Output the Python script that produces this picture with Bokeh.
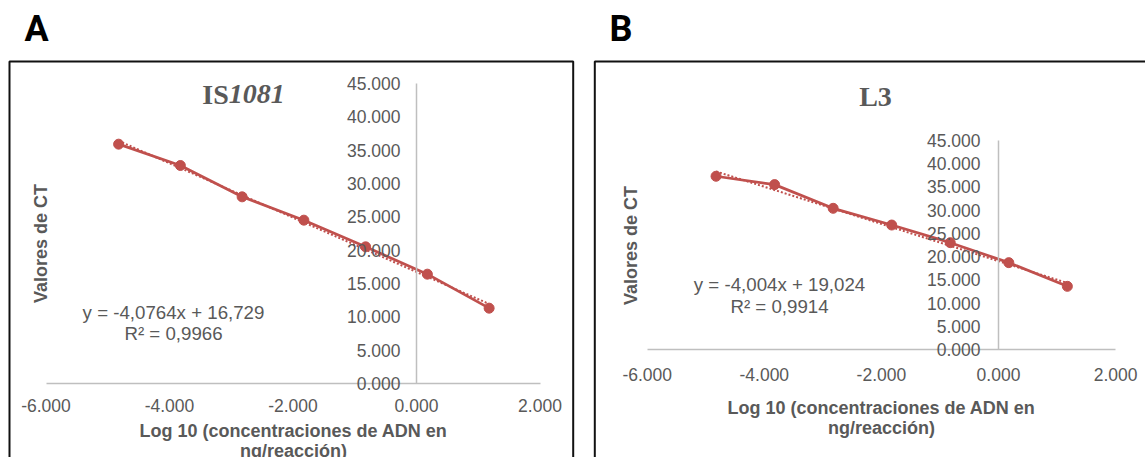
import math
from bokeh.plotting import figure
from bokeh.models import (LinearAxis, FixedTicker, NumeralTickFormatter, Label,
                          BoxAnnotation, Range1d, ColumnDataSource)
from bokeh.layouts import row
from bokeh.embed import file_html
from bokeh.resources import INLINE

# ---------------- data ----------------
log_conc = [-4.824, -3.824, -2.824, -1.824, -0.824, 0.176, 1.176]
ct_is1081 = [35.9, 32.7, 28.0, 24.5, 20.5, 16.4, 11.3]
ct_l3 = [37.3, 35.5, 30.4, 26.8, 23.0, 18.7, 13.6]

slope_is1081, intercept_is1081, r2_is1081 = -4.0764, 16.729, 0.9966
slope_l3, intercept_l3, r2_l3 = -4.004, 19.024, 0.9914

x_ticks = [-6, -4, -2, 0, 2]
y_ticks = [0, 5, 10, 15, 20, 25, 30, 35, 40, 45]

panel_letters = ["A", "B"]
x_title = "Log 10 (concentraciones de ADN en\nng/reacción)"
y_title = "Valores de CT"

# ---------------- style ----------------
RED = "#C0504D"
GRAY_TXT = "#595959"
AXIS_COL = "#BFBFBF"
TICK_FONT = "Liberation Sans"
CANVAS_TOP = 0
CANVAS_H = 457


def fmt(v):
    return f"{v:g}".replace(".", ",")


def make_panel(cfg, ct, slope, intercept, r2, letter):
    W = cfg["w"]
    left = cfg["left"]

    def dx(px):
        return (px - cfg["x0"]) / cfg["xppu"]

    def dy(py):
        return (cfg["y0"] - py) / cfg["yppu"]

    p = figure(width=W, height=CANVAS_H,
               x_range=Range1d(dx(left), dx(left + W)),
               y_range=Range1d(dy(CANVAS_TOP + CANVAS_H), dy(CANVAS_TOP)),
               output_backend="svg", toolbar_location=None,
               x_axis_location=None, y_axis_location=None,
               min_border=0, min_border_left=0, min_border_right=0,
               min_border_top=0, min_border_bottom=0)
    p.outline_line_color = None
    p.grid.visible = False
    p.background_fill_color = "white"
    p.border_fill_color = "white"

    # x axis at y = 0
    xa = LinearAxis(fixed_location=0, bounds=(x_ticks[0], x_ticks[-1]),
                    ticker=FixedTicker(ticks=x_ticks),
                    formatter=NumeralTickFormatter(format="0.000"))
    xa.axis_line_color = AXIS_COL
    xa.axis_line_width = 1.5
    xa.major_tick_line_color = None
    xa.minor_tick_line_color = None
    xa.major_tick_out = 0
    xa.major_tick_in = 0
    xa.major_label_standoff = cfg["xstand"]
    xa.major_label_text_font = TICK_FONT
    xa.major_label_text_font_size = "17.5px"
    xa.major_label_text_color = GRAY_TXT
    xa.axis_label = x_title
    xa.axis_label_standoff = cfg["xlabstand"]
    xa.axis_label_text_font = TICK_FONT
    xa.axis_label_text_font_size = "18px"
    xa.axis_label_text_font_style = "bold"
    xa.axis_label_text_color = GRAY_TXT
    xa.axis_label_text_line_height = 1.0
    p.add_layout(xa, "below")

    # y axis at x = 0
    ya = LinearAxis(fixed_location=0, bounds=(y_ticks[0], y_ticks[-1]),
                    ticker=FixedTicker(ticks=y_ticks),
                    formatter=NumeralTickFormatter(format="0.000"))
    ya.axis_line_color = AXIS_COL
    ya.axis_line_width = 1.5
    ya.major_tick_line_color = None
    ya.minor_tick_line_color = None
    ya.major_tick_out = 0
    ya.major_tick_in = 0
    ya.major_label_standoff = cfg["ystand"]
    ya.major_label_text_font = TICK_FONT
    ya.major_label_text_font_size = "17.5px"
    ya.major_label_text_color = GRAY_TXT
    p.add_layout(ya, "left")

    # trendline (from the fitted equation, over the data range)
    tx = [min(log_conc), max(log_conc)]
    ty = [slope * v + intercept for v in tx]
    p.line(tx, ty, line_color=RED, line_width=2, line_dash="2 2")

    src = ColumnDataSource(dict(x=log_conc, y=ct))
    p.line("x", "y", source=src, line_color=RED, line_width=2.75)
    p.scatter("x", "y", source=src, size=10, color=RED)

    # panel frame
    p.add_layout(BoxAnnotation(left=dx(cfg["box_l"]), right=dx(cfg["box_r"]),
                               top=dy(61), bottom=dy(3000),
                               fill_color=None, fill_alpha=0,
                               line_color="#111111", line_alpha=1.0, line_width=2))

    # panel letter
    p.add_layout(Label(x=dx(cfg["letter_x"]), y=dy(28), text=letter,
                       text_font="Roboto", text_font_size="36px",
                       text_font_style="bold", text_color="black",
                       text_align="left", text_baseline="middle"))

    # chart title
    for txt, style, align in cfg["title"]:
        p.add_layout(Label(x=dx(cfg["title_x"]), y=dy(cfg["title_mid"]), text=txt,
                           text_font="Liberation Serif", text_font_size="28px",
                           text_font_style=style, text_color=GRAY_TXT,
                           text_align=align, text_baseline="middle"))

    # equation
    eq1 = f"y = {fmt(slope)}x + {fmt(intercept)}"
    eq2 = f"R² = {fmt(r2)}"
    for txt, mid in ((eq1, cfg["eq_mid"][0]), (eq2, cfg["eq_mid"][1])):
        p.add_layout(Label(x=dx(cfg["eq_x"]), y=dy(mid), text=txt,
                           text_font=TICK_FONT, text_font_size="18.7px",
                           text_color=GRAY_TXT, text_align="center",
                           text_baseline="middle"))

    # y axis title
    p.add_layout(Label(x=dx(cfg["yt_x"]), y=dy(cfg["yt_y"]), text=y_title,
                       angle=math.pi / 2, text_font=TICK_FONT, text_font_size="18px",
                       text_font_style="bold", text_color=GRAY_TXT,
                       text_align="center", text_baseline="middle"))
    return p


cfg_a = dict(left=0, w=583, x0=416, xppu=61.75, y0=383, yppu=300 / 45,
             xstand=15, xlabstand=6, ystand=16,
             box_l=9, box_r=572.7, letter_x=24,
             title=[("IS", "bold", "right"), ("1081", "bold italic", "left")],
             title_x=228.2, title_mid=93.7,
             eq_x=173, eq_mid=(312, 333), yt_x=40, yt_y=243)
cfg_b = dict(left=583, w=562, x0=998, xppu=58.55, y0=349, yppu=209 / 45,
             xstand=18, xlabstand=14, ystand=18,
             box_l=594.3, box_r=3000, letter_x=609,
             title=[("L3", "bold", "center")],
             title_x=875, title_mid=96.3,
             eq_x=779, eq_mid=(284, 306), yt_x=630, yt_y=245)

pa = make_panel(cfg_a, ct_is1081, slope_is1081, intercept_is1081, r2_is1081, panel_letters[0])
pb = make_panel(cfg_b, ct_l3, slope_l3, intercept_l3, r2_l3, panel_letters[1])

layout = row(pa, pb)
open("out.html", "w").write(file_html(layout, INLINE))
